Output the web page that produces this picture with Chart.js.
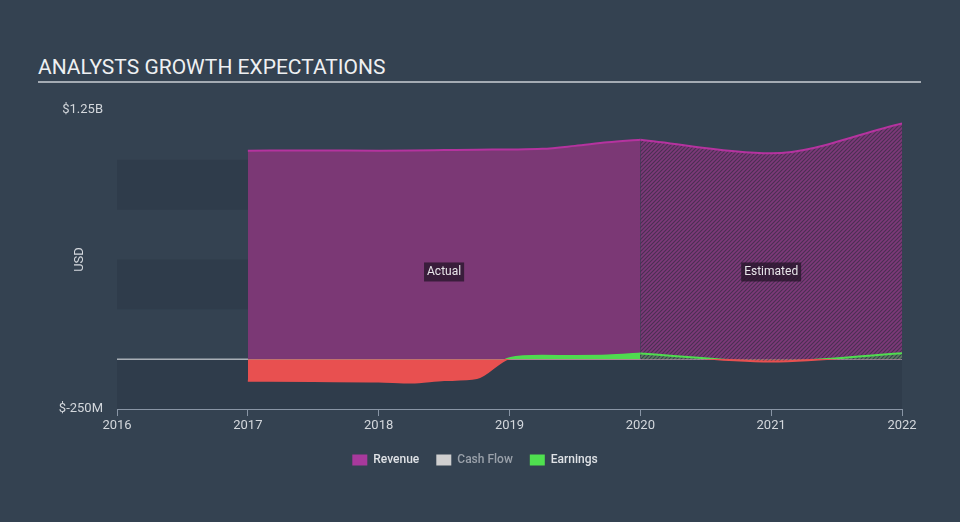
<!DOCTYPE html>
<html>
<head>
<meta charset="utf-8">
<script src="https://cdn.jsdelivr.net/npm/chart.js@4/dist/chart.umd.min.js"></script>
<style>
    body { margin: 0; background: #344251; font-family: Roboto, sans-serif; }
    #wrap { position: relative; width: 960px; height: 522px; }
    #titel { position: absolute; left: 38px; top: 55px; font-size: 21px; color: #eef0f2; }
    #streep { position: absolute; left: 38px; top: 81px; width: 883px; height: 2px; background: #a4abb3; }
    canvas { position: absolute; left: 0; top: 0; }
</style>
</head>
<body>
<div id="wrap">
    <div id="titel">ANALYSTS GROWTH EXPECTATIONS</div>
    <div id="streep"></div>
    <canvas id="myChart" width="960" height="522"></canvas>
</div>
<script>
// waarden in miljard USD
let jarenActueel = [2017, 2017.5, 2018, 2018.25, 2018.5, 2018.75, 2019, 2019.25, 2019.5, 2019.75, 2020];
let omzetActueel = [1.046, 1.047, 1.046, 1.047, 1.049, 1.051, 1.052, 1.055, 1.07, 1.088, 1.101];
let winstActueel = [-0.108, -0.11, -0.112, -0.117, -0.105, -0.095, 0.005, 0.017, 0.016, 0.018, 0.028];

let jarenSchatting = [2020, 2021, 2022];
let omzetSchatting = [1.101, 1.033, 1.183];
let winstSchatting = [0.028, -0.012, 0.03];

let kasstroom = [];

let yLabels = { "1.25": "$1.25B", "-0.25": "$-250M" };
let notities = [
    { tekst: "Actual", jaar: 2018.5, waarde: 0.44 },
    { tekst: "Estimated", jaar: 2021, waarde: 0.44 }
];

function maakPunten(jaren, waarden) {
    let punten = [];
    for (let i = 0; i < jaren.length; i++) {
        punten.push({ x: jaren[i], y: waarden[i] });
    }
    return punten;
}

function maakStreep(achter, lijn) {
    let c = document.createElement("canvas");
    c.width = 4;
    c.height = 4;
    let g = c.getContext("2d");
    g.fillStyle = achter;
    g.fillRect(0, 0, 4, 4);
    g.strokeStyle = lijn;
    g.lineWidth = 1.1;
    g.beginPath();
    g.moveTo(-1, 5); g.lineTo(5, -1);
    g.moveTo(-1, 1); g.lineTo(1, -1);
    g.moveTo(3, 5); g.lineTo(5, 3);
    g.stroke();
    return g.createPattern(c, "repeat");
}

let paars = "#7b3875";
let paarsLijn = "#b5339f";
let groen = "#4fdc4f";
let rood = "#e85050";

function winstLijnKleur(ctx) {
    let chart = ctx.chart;
    let area = chart.chartArea;
    if (!area) {
        return groen;
    }
    let y0 = chart.scales.y.getPixelForValue(0);
    let t = (y0 - area.top) / (area.bottom - area.top);
    let grad = chart.ctx.createLinearGradient(0, area.top, 0, area.bottom);
    grad.addColorStop(0, groen);
    grad.addColorStop(t, groen);
    grad.addColorStop(t, rood);
    grad.addColorStop(1, rood);
    return grad;
}

let banden = {
    id: "banden",
    beforeDatasetsDraw(chart) {
        let ctx = chart.ctx;
        let y = chart.scales.y;
        let area = chart.chartArea;
        ctx.save();
        ctx.fillStyle = "#2f3c4b";
        for (let i = 0; i < y.ticks.length - 1; i += 2) {
            let a = y.getPixelForValue(y.ticks[i].value);
            let b = y.getPixelForValue(y.ticks[i + 1].value);
            ctx.fillRect(area.left, b, area.right - area.left, a - b);
        }
        // nullijn
        let y0 = y.getPixelForValue(0);
        ctx.fillStyle = "#e6e9ec";
        ctx.fillRect(area.left, y0 - 0.5, area.right - area.left, 1);
        ctx.restore();
    }
};

let labels = {
    id: "labels",
    afterDatasetsDraw(chart) {
        let ctx = chart.ctx;
        ctx.save();
        ctx.font = "12px Roboto";
        ctx.textAlign = "center";
        ctx.textBaseline = "middle";
        for (let i = 0; i < notities.length; i++) {
            let n = notities[i];
            let x = chart.scales.x.getPixelForValue(n.jaar);
            let y = chart.scales.y.getPixelForValue(n.waarde);
            let w = ctx.measureText(n.tekst).width + 6;
            ctx.fillStyle = "rgba(38, 22, 42, 0.78)";
            ctx.fillRect(x - w / 2, y - 9, w, 19);
            ctx.fillStyle = "#e8e6ea";
            ctx.fillText(n.tekst, x, y + 1);
        }
        // as-titel
        ctx.font = "13px Roboto";
        ctx.translate(80, (chart.chartArea.top + chart.chartArea.bottom) / 2);
        ctx.rotate(-Math.PI / 2);
        ctx.fillStyle = "#d5d9de";
        ctx.fillText("USD", 0, 0);
        ctx.restore();
    }
};

let canvas = document.getElementById("myChart");

let grafic = new Chart(canvas, {
    type: "line",
    data: {
        datasets: [
            {
                label: "Revenue",
                data: maakPunten(jarenActueel, omzetActueel),
                borderColor: paarsLijn,
                backgroundColor: paars,
                borderWidth: 2,
                pointRadius: 0,
                fill: "origin",
                cubicInterpolationMode: "monotone",
                order: 2
            },
            {
                label: "Revenue est",
                data: maakPunten(jarenSchatting, omzetSchatting),
                borderColor: paarsLijn,
                backgroundColor: maakStreep("#7d3979", "#4a3052"),
                borderWidth: 2,
                pointRadius: 0,
                fill: "origin",
                cubicInterpolationMode: "monotone",
                order: 3
            },
            {
                label: "Cash Flow",
                data: kasstroom,
                borderColor: "#cccccc",
                backgroundColor: "#cccccc",
                pointRadius: 0,
                order: 1
            },
            {
                label: "Earnings",
                data: maakPunten(jarenActueel, winstActueel),
                borderColor: winstLijnKleur,
                borderWidth: 2,
                pointRadius: 0,
                fill: { target: "origin", above: groen, below: rood },
                cubicInterpolationMode: "monotone",
                order: 0
            },
            {
                label: "Earnings est",
                data: maakPunten(jarenSchatting, winstSchatting),
                borderColor: winstLijnKleur,
                borderWidth: 2,
                pointRadius: 0,
                fill: { target: "origin", above: maakStreep("#5f7d62", "#34404c"), below: maakStreep("#c84a4f", "#3a3f4c") },
                cubicInterpolationMode: "monotone",
                order: 0
            }
        ]
    },
    options: {
        responsive: false,
        animation: false,
        layout: {
            padding: { left: 48, right: 58, top: 110, bottom: 46 }
        },
        scales: {
            x: {
                type: "linear",
                min: 2016,
                max: 2022,
                ticks: {
                    stepSize: 1,
                    color: "#d3d7dc",
                    font: { family: "Roboto", size: 13 },
                    padding: 2,
                    callback: function (v) { return String(v); }
                },
                grid: {
                    drawOnChartArea: false,
                    drawTicks: true,
                    tickLength: 7,
                    color: "#8995a5"
                },
                border: { color: "#8995a5", width: 1 },
                afterFit: function (s) { s.height = 28; }
            },
            y: {
                min: -0.25,
                max: 1.25,
                ticks: {
                    stepSize: 0.25,
                    color: "#d3d7dc",
                    font: { family: "Roboto", size: 13 },
                    padding: 14,
                    callback: function (v) {
                        let k = String(Math.round(v * 100) / 100);
                        return yLabels[k] || "";
                    }
                },
                grid: { display: false, drawTicks: false },
                border: { display: false },
                afterFit: function (s) { s.width = 69; }
            }
        },
        plugins: {
            tooltip: { enabled: false },
            legend: {
                position: "bottom",
                labels: {
                    boxWidth: 15,
                    boxHeight: 11,
                    padding: 17,
                    font: { family: "Roboto", size: 12, weight: "500" },
                    generateLabels: function () {
                        return [
                            { text: "Revenue", fillStyle: "#a8399c", strokeStyle: "#a8399c", lineWidth: 0, fontColor: "#dfe2e6", datasetIndex: 0 },
                            { text: "Cash Flow", fillStyle: "#cfcfcf", strokeStyle: "#cfcfcf", lineWidth: 0, fontColor: "#9aa1aa", datasetIndex: 2 },
                            { text: "Earnings", fillStyle: "#4fe04f", strokeStyle: "#4fe04f", lineWidth: 0, fontColor: "#dfe2e6", datasetIndex: 3 }
                        ];
                    }
                }
            }
        }
    },
    plugins: [banden, labels]
});
</script>
</body>
</html>
